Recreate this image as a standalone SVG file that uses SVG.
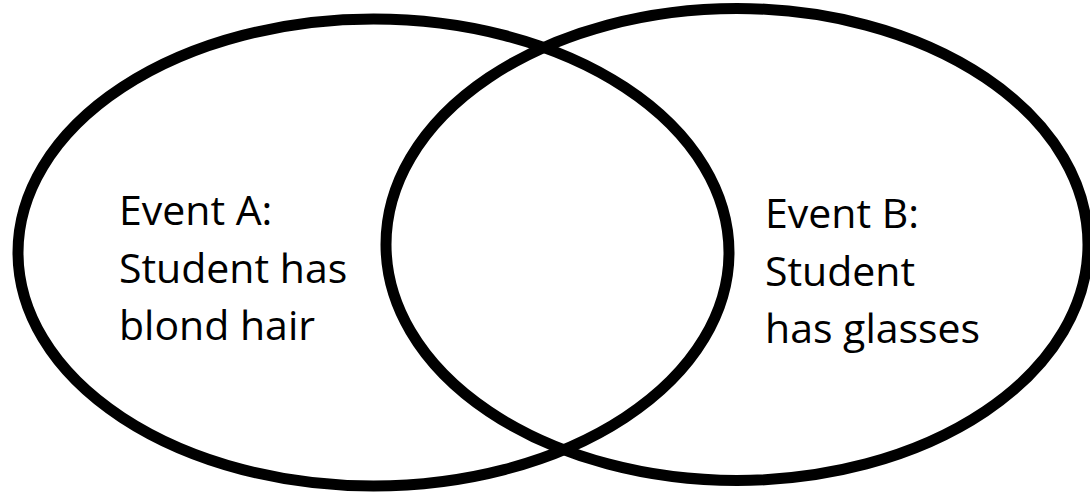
<svg xmlns="http://www.w3.org/2000/svg" width="1090" height="493" viewBox="0 0 1090 493">
  <style>
    .set { fill: none; stroke: #000; stroke-width: 11; }
    .lbl { font-family: "Open Sans", "Liberation Sans", sans-serif; font-size: 41px; fill: #000; }
  </style>
  <rect width="1090" height="493" fill="#fff"/>
  <g id="eventA">
    <ellipse class="set" cx="373.5" cy="252.5" rx="355.5" ry="233.5"/>
    <text class="lbl" x="119" y="225">Event A:</text>
    <text class="lbl" x="119" y="283">Student has</text>
    <text class="lbl" x="119" y="340">blond hair</text>
  </g>
  <g id="eventB">
    <ellipse class="set" cx="737" cy="244.5" rx="351" ry="236"/>
    <text class="lbl" x="765" y="228">Event B:</text>
    <text class="lbl" x="765" y="286">Student</text>
    <text class="lbl" x="765" y="343">has glasses</text>
  </g>
  <g id="connectors"/>
</svg>
